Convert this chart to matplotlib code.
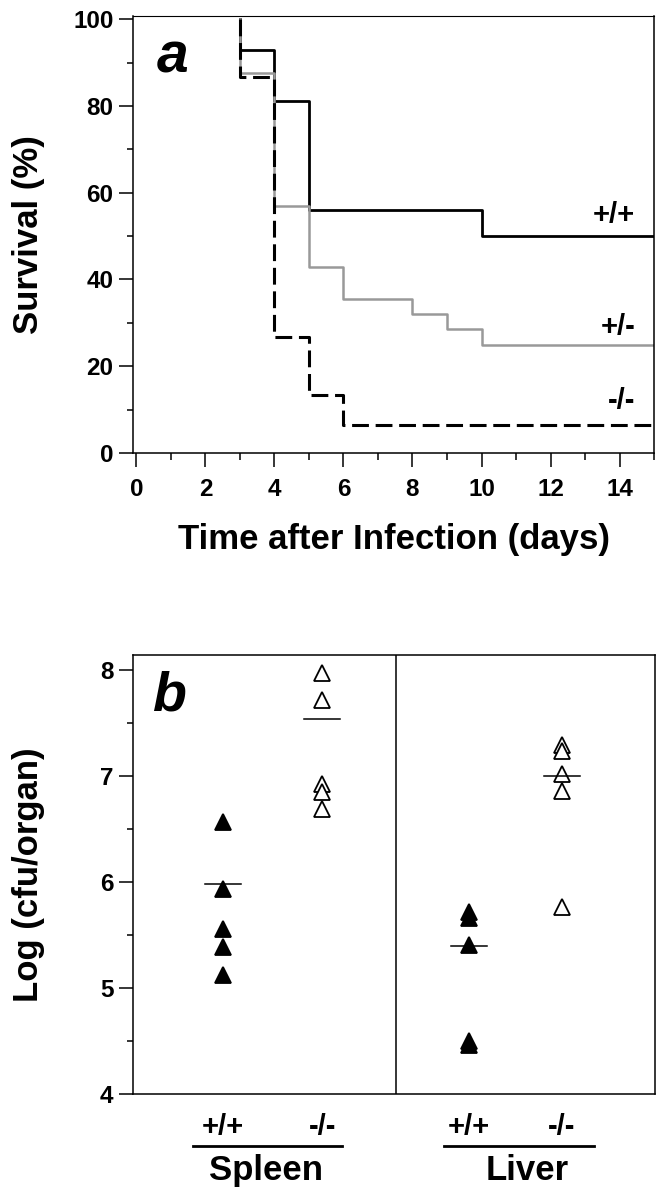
import numpy as np
import matplotlib
matplotlib.use("Agg")
import matplotlib.pyplot as plt
from matplotlib.ticker import MultipleLocator
import matplotlib.transforms as mtransforms

plt.rcParams['font.family'] = ['Liberation Sans', 'DejaVu Sans']
plt.rcParams['font.weight'] = 'bold'

# ---- panel a: survival curves (step points, % surviving)
days_wt = [3, 3, 4, 5, 10, 15]
surv_wt = [100, 93, 81.25, 56, 50, 50]
days_het = [3, 3, 4, 5, 6, 8, 9, 10, 15]
surv_het = [100, 87.5, 57, 42.8, 35.5, 32, 28.5, 24.8, 24.8]
days_ko = [3, 3, 4, 5, 6, 15]
surv_ko = [100, 86.7, 26.7, 13.3, 6.5, 6.5]
curve_labels = ['+/+', '+/-', '-/-']
label_y = [54.8, 29.0, 12.0]

# ---- panel b: log cfu per organ
spleen_wt = [6.57, 5.93, 5.56, 5.39, 5.12]
spleen_ko = [7.97, 7.72, 6.92, 6.85, 6.69]
liver_wt = [5.72, 5.66, 5.41, 4.50, 4.46]
liver_ko = [7.29, 7.24, 7.02, 6.86, 5.76]
group_means = [5.98, 7.54, 5.40, 7.00]
genotypes = ['+/+', '-/-', '+/+', '-/-']
organs = ['Spleen', 'Liver']

fig = plt.figure(figsize=(6.64, 12), dpi=100)

# ------------------------------------------------------------ panel a
ax = fig.add_axes([0.2003, 0.6225, 0.7847, 0.3644])
ax.step(days_wt, surv_wt, where='post', color='black', lw=2.0)
ax.step(days_het, surv_het, where='post', color='0.6', lw=1.8)
ax.step(days_ko, surv_ko, where='post', color='black', lw=2.2,
        dashes=(5.5, 2.2))
for txt, yy in zip(curve_labels, label_y):
    ax.text(14.45, yy, txt, ha='right', va='center', fontsize=21,
            fontweight='bold')
ax.text(0.6, 87.8, 'a', fontsize=41, fontweight='bold', style='italic',
        va='baseline')

ax.set_xlim(-0.1, 15)
ax.set_ylim(0, 100.8)
ax.xaxis.set_major_locator(MultipleLocator(2))
ax.xaxis.set_minor_locator(MultipleLocator(1))
ax.yaxis.set_major_locator(MultipleLocator(20))
ax.yaxis.set_minor_locator(MultipleLocator(10))
ax.tick_params(which='major', direction='out', length=10, width=1.1,
               labelsize=17.5, pad=4)
ax.tick_params(axis='x', which='major', pad=8)
ax.tick_params(which='minor', direction='out', length=4, width=1.1)
ax.tick_params(axis='x', which='minor', length=5)
for s in ax.spines.values():
    s.set_linewidth(1.1)
ax.spines['top'].set_linewidth(0.8)
ax.set_xlabel('Time after Infection (days)', fontsize=25, fontweight='bold',
              labelpad=16)
ax.set_ylabel('Survival (%)', fontsize=25, fontweight='bold')
ax.yaxis.set_label_coords(-0.168, 0.5)

# ------------------------------------------------------------ panel b
bx = fig.add_axes([0.2003, 0.0883, 0.7861, 0.3658])
xpos = [1, 2, 3.48, 4.42]
groups = [spleen_wt, spleen_ko, liver_wt, liver_ko]
for i, (x, vals) in enumerate(zip(xpos, groups)):
    filled = genotypes[i] == '+/+'
    bx.plot([x] * len(vals), vals, linestyle='none', marker='^',
            markersize=12, markerfacecolor='black' if filled else 'white',
            markeredgecolor='black', markeredgewidth=1.3)
    bx.plot([x - 0.18, x + 0.18], [group_means[i]] * 2, color='black', lw=1.1)

bx.axvline(2.75, color='black', lw=1.1)
bx.set_xlim(0.09, 5.36)
bx.set_ylim(4, 8.14)
bx.yaxis.set_major_locator(MultipleLocator(1))
bx.yaxis.set_minor_locator(MultipleLocator(0.5))
bx.tick_params(axis='y', which='major', direction='out', length=10,
               width=1.1, labelsize=17.5, pad=4)
bx.tick_params(axis='y', which='minor', direction='out', length=4, width=1.1)
bx.set_xticks(xpos)
bx.set_xticklabels(genotypes, fontsize=21, fontweight='bold')
bx.tick_params(axis='x', length=0, pad=14)
for s in bx.spines.values():
    s.set_linewidth(1.1)
bx.text(0.28, 7.62, 'b', fontsize=40, fontweight='bold', style='italic',
        va='baseline')
bx.set_ylabel('Log (cfu/organ)', fontsize=25, fontweight='bold')
bx.yaxis.set_label_coords(-0.168, 0.5)

# underlines and organ names under the genotype labels
trans = mtransforms.blended_transform_factory(bx.transData, bx.transAxes)
line_spans = [(0.70, 2.20), (3.23, 4.74)]
name_x = [1.43, 4.07]
for organ, (x0, x1), nx in zip(organs, line_spans, name_x):
    bx.plot([x0, x1], [-0.118, -0.118], color='black', lw=2.0,
            transform=trans, clip_on=False)
    bx.text(nx, -0.175, organ, transform=trans,
            ha='center', va='center', fontsize=25, fontweight='bold')

fig.savefig('out.png', dpi=100)
